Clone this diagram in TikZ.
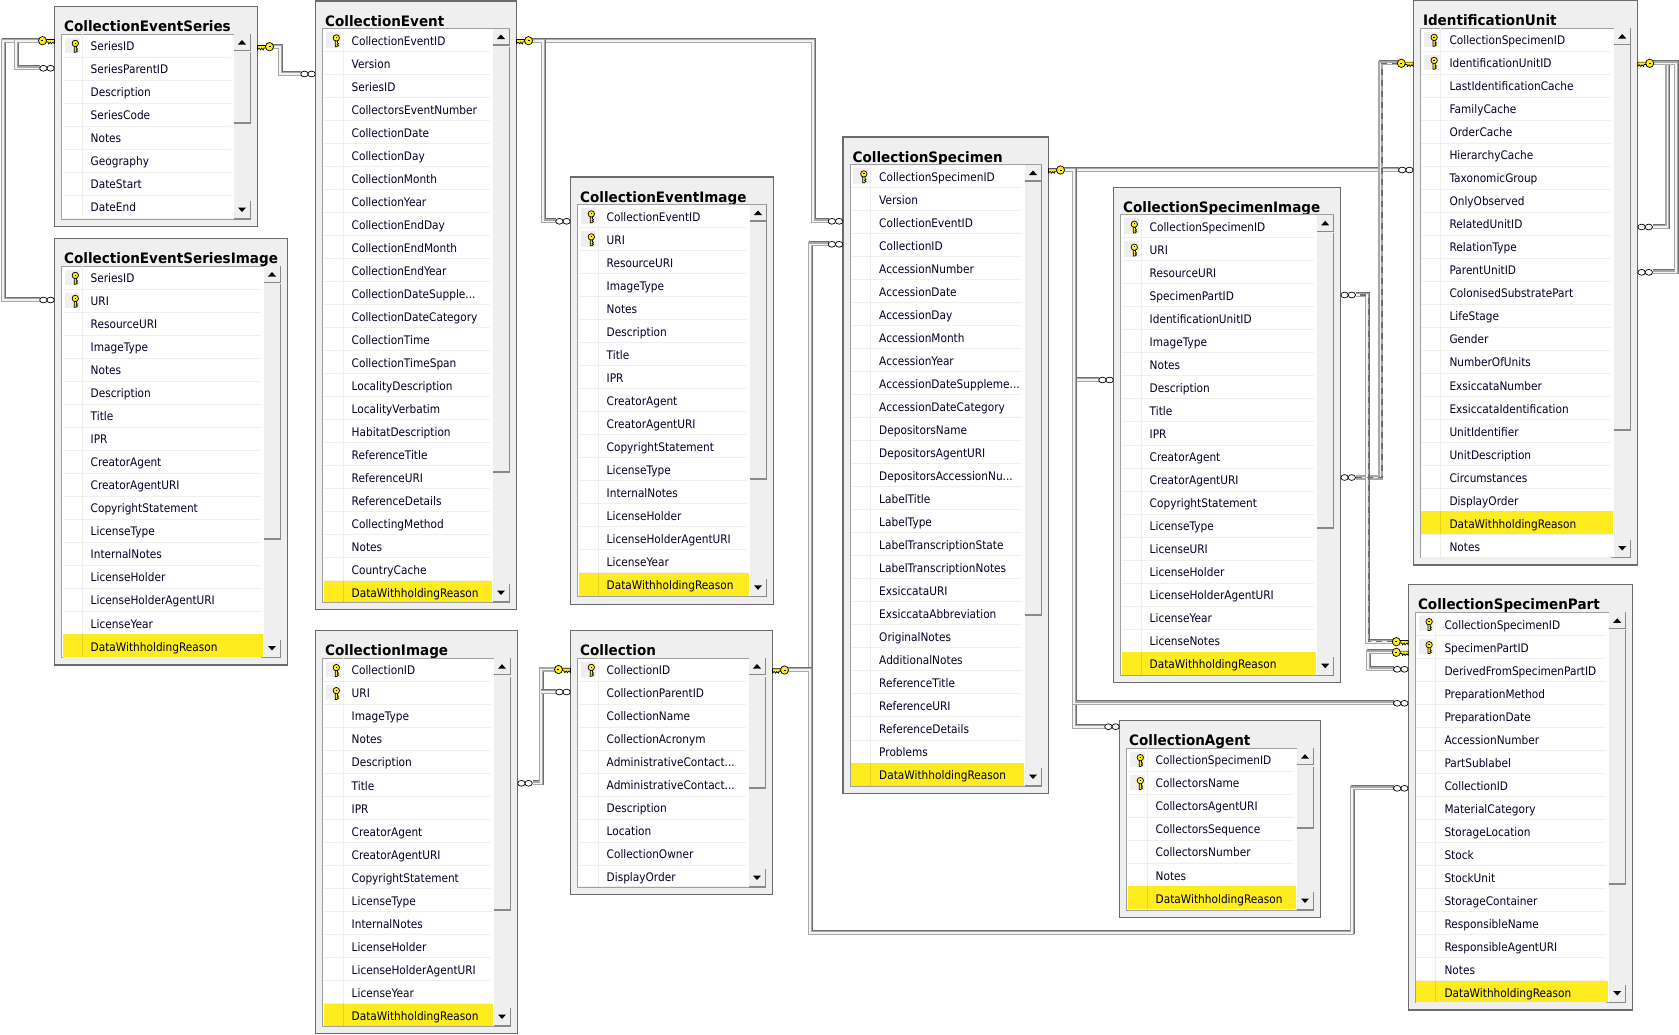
\documentclass[tikz,border=0pt]{standalone}
\usepackage{fontspec}
\setmainfont[FakeStretch=0.895]{DejaVu Sans}
\newfontfamily\titlefont[FakeStretch=0.94]{DejaVu Sans Bold}
\definecolor{boxedge}{HTML}{6B6B6B}
\definecolor{boxfill}{HTML}{EFEFEF}
\definecolor{framegray}{HTML}{A0A0A0}
\definecolor{hiyellow}{HTML}{FFEC1F}
\definecolor{relgray}{HTML}{A8A8A8}
\definecolor{reldark}{HTML}{6E6E6E}

\newcommand{\tdots}{.{}.{}.}
\newcommand{\rowkey}[2]{%
	\begin{scope}[shift={(#1,#2)}]
		\filldraw[keyfill] (-1.1,-1) -- (-1.1,6.2) -- (0.6,6.2) -- (2.2,5) -- (0.9,4) -- (2.2,3) -- (1.1,2) -- (1.1,-1) -- cycle;
		\filldraw[keyfill] (0,-2.6) circle [x radius=3.2,y radius=3.2];
		\fill (-0.8,-3.4) rectangle (0.8,-2.6);
	\end{scope}}
\newcommand{\keyend}[2]{%
	\begin{scope}[shift={(#1)},xscale=#2]
		\filldraw[keyfill] (0,-1.2) -- (-9,-1.2) -- (-9,1.2) -- (-6.5,1.2) -- (-5.8,3.2) -- (-4.2,1.5) -- (-3.2,3.2) -- (-1.6,1.5) -- (0,3) -- cycle;
		\filldraw[keyfill] (-12,0) circle [x radius=4,y radius=4.2];
		\draw[line width=0.9pt] (-13.5,0) -- (-11.5,0);
	\end{scope}}
\newcommand{\infend}[2]{%
	\begin{scope}[shift={(#1)},xscale=#2]
		\filldraw[infring] (-3.9,0) circle [x radius=3.7,y radius=2.9];
		\filldraw[infring] (-11.1,0) circle [x radius=3.7,y radius=2.9];
	\end{scope}}
\newcommand{\sbpiece}[4]{%
	\fill[boxfill] (#1,#2) rectangle (#3,#4);
	\draw[sbedge] (#1,#4) -- (#3,#4) -- (#3,#2);}
\newcommand{\scrollthumb}[3]{\sbpiece{#1-24}{#2}{#1-7}{#3}}
\newcommand{\dbtable}[9]{%
	\pgfmathsetmacro{\tabw}{#4-#2}
	\pgfmathsetmacro{\tabh}{#5-#3}
	\node[tablebox,minimum width=\tabw pt,minimum height=\tabh pt] (#1) at (#2,#3) {};
	\node[tabletitle] (#1-title) at (#2+9.5,#3+25) {#6};
	\filldraw[gridframe] (#2+7,#3+27.5) rectangle (#4-7,#5-7.5);
	\foreach \rowname [count=\i] in {#9} {
		\pgfmathsetmacro{\rowtop}{#3+27.5+(\i-1)*23.02}
		\pgfmathsetmacro{\rowbot}{min(\rowtop+23.02,#5-8)}
		\draw[rowline] (#2+8,\rowbot) -- (#4-27,\rowbot);
		\draw[rowline] (#2+27.5,\rowtop) -- (#2+27.5,\rowbot);
		\ifnum\i=#8
			\fill[hiyellow] (#2+8,\rowtop) rectangle (#4-25,\rowbot);
			\draw[hiyellow!90!black,line width=0.8pt] (#2+27.5,\rowtop) -- (#2+27.5,\rowbot);
		\fi
		\ifnum\i>#7 \else
			\fill[boxfill] (#2+10.2,\rowtop+3.5) rectangle (#2+25.5,\rowtop+19);
			\rowkey{#2+20.8}{\rowtop+12}
		\fi
		\node[rowtext] (#1-\i) at (#2+36,\rowtop+13.7) {\rowname};
	}
	\fill[boxfill] (#4-24,#3+27.5) rectangle (#4-7,#5-7.5);
	\sbpiece{#4-24}{#3+27.5}{#4-7}{#3+44}
	\sbpiece{#4-24}{#5-25.5}{#4-7}{#5-7.5}
	\fill (#4-19.5,#3+38) -- (#4-15.5,#3+33.5) -- (#4-11.5,#3+38) -- cycle;
	\fill (#4-19.5,#5-19) -- (#4-15.5,#5-14.5) -- (#4-11.5,#5-19) -- cycle;}

\begin{document}
\begin{tikzpicture}[x=1pt,y=-1pt,line cap=butt]
	\tikzstyle{tablebox}=[draw=boxedge,line width=1.1pt,fill=boxfill,rectangle,inner sep=0pt,outer sep=0pt,anchor=north west];
	\tikzstyle{tabletitle}=[anchor=base west,inner sep=0pt,font=\titlefont\fontsize{14.4}{16}\selectfont];
	\tikzstyle{gridframe}=[draw=framegray,line width=1pt,fill=white];
	\tikzstyle{rowline}=[draw=boxfill,line width=1pt];
	\tikzstyle{rowtext}=[anchor=west,inner sep=0pt,text height=8.6pt,text depth=2.6pt,text=black!85!blue,font=\fontsize{11.8}{14}\selectfont];
	\tikzstyle{keyfill}=[fill=hiyellow,draw=black,line width=0.7pt];
	\tikzstyle{infring}=[fill=white,draw=black,line width=0.7pt];
	\tikzstyle{sbedge}=[draw=boxedge!80,line width=1.2pt];
	\tikzstyle{rel}=[preaction={draw=reldark,line width=4.4pt,shorten <=15pt,shorten >=15pt,transform canvas={shift={(0.7pt,0.7pt)}}},draw=relgray,double=white!95!black,double distance=1.6pt,line width=1.3pt,shorten <=15pt,shorten >=15pt];
	\tikzstyle{reldash}=[draw=reldark,line width=1.3pt,dash pattern=on 6pt off 5pt,xshift=1.5pt,shorten <=15pt,shorten >=15pt];

	\useasboundingbox (0,0) rectangle (1679,1034);

	\dbtable{ces}{54.5}{6.5}{257.5}{226.5}{CollectionEventSeries}{1}{0}{SeriesID,SeriesParentID,Description,SeriesCode,Notes,Geography,DateStart,DateEnd}
	\scrollthumb{257.5}{52}{123}
	\dbtable{cesi}{54.5}{238.5}{287.5}{665}{CollectionEventSeriesImage}{2}{17}{SeriesID,URI,ResourceURI,ImageType,Notes,Description,Title,IPR,CreatorAgent,CreatorAgentURI,CopyrightStatement,LicenseType,InternalNotes,LicenseHolder,LicenseHolderAgentURI,LicenseYear,DataWithholdingReason}
	\scrollthumb{287.5}{284}{539}
	\dbtable{ce}{315.5}{1}{516.5}{609.5}{CollectionEvent}{1}{25}{CollectionEventID,Version,SeriesID,CollectorsEventNumber,CollectionDate,CollectionDay,CollectionMonth,CollectionYear,CollectionEndDay,CollectionEndMonth,CollectionEndYear,CollectionDateSupple\tdots,CollectionDateCategory,CollectionTime,CollectionTimeSpan,LocalityDescription,LocalityVerbatim,HabitatDescription,ReferenceTitle,ReferenceURI,ReferenceDetails,CollectingMethod,Notes,CountryCache,DataWithholdingReason}
	\scrollthumb{516.5}{47}{472}
	\dbtable{cei}{570.5}{177}{773.5}{604.3}{CollectionEventImage}{2}{17}{CollectionEventID,URI,ResourceURI,ImageType,Notes,Description,Title,IPR,CreatorAgent,CreatorAgentURI,CopyrightStatement,LicenseType,InternalNotes,LicenseHolder,LicenseHolderAgentURI,LicenseYear,DataWithholdingReason}
	\scrollthumb{773.5}{222}{479}
	\dbtable{ci}{315.5}{630.7}{517.5}{1033.5}{CollectionImage}{2}{16}{CollectionID,URI,ImageType,Notes,Description,Title,IPR,CreatorAgent,CreatorAgentURI,CopyrightStatement,LicenseType,InternalNotes,LicenseHolder,LicenseHolderAgentURI,LicenseYear,DataWithholdingReason}
	\scrollthumb{517.5}{677}{910}
	\dbtable{coll}{570.5}{630.5}{772.5}{894.5}{Collection}{1}{0}{CollectionID,CollectionParentID,CollectionName,CollectionAcronym,AdministrativeContact\tdots,AdministrativeContact\tdots,Description,Location,CollectionOwner,DisplayOrder}
	\scrollthumb{772.5}{677}{788}
	\dbtable{cs}{843}{137}{1048.5}{793.5}{CollectionSpecimen}{1}{27}{CollectionSpecimenID,Version,CollectionEventID,CollectionID,AccessionNumber,AccessionDate,AccessionDay,AccessionMonth,AccessionYear,AccessionDateSuppleme\tdots,AccessionDateCategory,DepositorsName,DepositorsAgentURI,DepositorsAccessionNu\tdots,LabelTitle,LabelType,LabelTranscriptionState,LabelTranscriptionNotes,ExsiccataURI,ExsiccataAbbreviation,OriginalNotes,AdditionalNotes,ReferenceTitle,ReferenceURI,ReferenceDetails,Problems,DataWithholdingReason}
	\scrollthumb{1048.5}{182}{615}
	\dbtable{csi}{1113.5}{187.3}{1340.7}{682.7}{CollectionSpecimenImage}{2}{20}{CollectionSpecimenID,URI,ResourceURI,SpecimenPartID,IdentificationUnitID,ImageType,Notes,Description,Title,IPR,CreatorAgent,CreatorAgentURI,CopyrightStatement,LicenseType,LicenseURI,LicenseHolder,LicenseHolderAgentURI,LicenseYear,LicenseNotes,DataWithholdingReason}
	\scrollthumb{1340.7}{233}{528}
	\dbtable{ca}{1119.5}{720.7}{1320.5}{917.5}{CollectionAgent}{2}{7}{CollectionSpecimenID,CollectorsName,CollectorsAgentURI,CollectorsSequence,CollectorsNumber,Notes,DataWithholdingReason}
	\scrollthumb{1320.5}{767}{828}
	\dbtable{iu}{1413.3}{0.5}{1637.7}{565}{IdentificationUnit}{2}{22}{CollectionSpecimenID,IdentificationUnitID,LastIdentificationCache,FamilyCache,OrderCache,HierarchyCache,TaxonomicGroup,OnlyObserved,RelatedUnitID,RelationType,ParentUnitID,ColonisedSubstratePart,LifeStage,Gender,NumberOfUnits,ExsiccataNumber,ExsiccataIdentification,UnitIdentifier,UnitDescription,Circumstances,DisplayOrder,DataWithholdingReason,Notes}
	\scrollthumb{1637.7}{45}{430}
	\dbtable{csp}{1408.3}{584.8}{1632.7}{1010}{CollectionSpecimenPart}{2}{17}{CollectionSpecimenID,SpecimenPartID,DerivedFromSpecimenPartID,PreparationMethod,PreparationDate,AccessionNumber,PartSublabel,CollectionID,MaterialCategory,StorageLocation,Stock,StockUnit,StorageContainer,ResponsibleName,ResponsibleAgentURI,Notes,DataWithholdingReason}
	\scrollthumb{1632.7}{630}{884}

	\coordinate (cesKeyL) at (54.5,40.7);
	\coordinate (cesInfL) at (54.5,68.3);
	\coordinate (cesKeyR) at (257.5,46.7);
	\coordinate (cesiInf) at (54.5,300);
	\coordinate (ceInf) at (315.5,74);
	\coordinate (ceKey) at (516.5,40.7);
	\coordinate (ceiInf) at (570.5,221.3);
	\coordinate (csInfE) at (843,221.3);
	\coordinate (csInfC) at (843,244.3);
	\coordinate (csKey) at (1048.5,170);
	\coordinate (collKeyL) at (570.5,669.5);
	\coordinate (collInf) at (570.5,692);
	\coordinate (collStub) at (525.7,692);
	\coordinate (ciInf) at (517.5,783.3);
	\coordinate (collKeyR) at (772.5,670);
	\coordinate (iuInfS) at (1413.3,170);
	\coordinate (csiInfS) at (1113.5,380);
	\coordinate (caInf) at (1119.5,726.7);
	\coordinate (cspInfS) at (1408.3,703.3);
	\coordinate (cspInfC) at (1408.3,788.3);
	\coordinate (cspKeyA) at (1408.3,641.7);
	\coordinate (cspKeyB) at (1408.3,652.3);
	\coordinate (cspInfD) at (1408.3,669.3);
	\coordinate (iuKeyL) at (1413.3,63.3);
	\coordinate (iuKeyR) at (1637.7,63.3);
	\coordinate (iuInfR) at (1637.7,227);
	\coordinate (iuInfP) at (1637.7,272.3);
	\coordinate (csiInfP) at (1340.7,295);
	\coordinate (csiInfU) at (1340.7,477.5);

	\draw[rel] (cesKeyL) -| (3,150) |- (cesiInf);
	\draw[rel] (cesKeyL) -| (16,50) |- (cesInfL);
	\draw[rel] (cesKeyR) -| (280,60) |- (ceInf);
	\draw[rel] (ceKey) -| (813,100) |- (csInfE);
	\draw[rel] (ceKey) -| (542.7,100) |- (ceiInf);
	\draw[rel] (collKeyL) -| (540.7,700) |- (ciInf);
	\draw[rel] (collInf) -- (collStub);
	\draw[rel] (collKeyR) -| (810,500) |- (csInfC);
	\draw[rel] (collKeyR) -| (810,800) |- (1352,932.7) |- (cspInfC);
	\draw[rel] (csKey) -- (iuInfS);
	\draw[rel] (csKey) -| (1074,300) |- (csiInfS);
	\draw[rel] (csKey) -| (1074,500) |- (caInf);
	\draw[rel] (csKey) -| (1074,500) |- (cspInfS);
	\draw[rel] (iuKeyL) -| (1380.5,300) |- (csiInfU);
	\draw[rel] (cspKeyA) -| (1366.7,500) |- (csiInfP);
	\draw[rel] (cspKeyB) -| (1368,660) |- (cspInfD);
	\draw[rel] (iuKeyR) -| (1667.3,150) |- (iuInfR);
	\draw[rel] (iuKeyR) -| (1676,150) |- (iuInfP);
	\draw[reldash] (iuKeyL) -| (1380.5,300) |- (csiInfU);
	\draw[reldash] (cspKeyA) -| (1366.7,500) |- (csiInfP);

	\keyend{cesKeyL}{1}
	\keyend{cesKeyR}{-1}
	\keyend{ceKey}{-1}
	\keyend{csKey}{-1}
	\keyend{collKeyL}{1}
	\keyend{collKeyR}{-1}
	\keyend{iuKeyL}{1}
	\keyend{iuKeyR}{-1}
	\keyend{cspKeyA}{1}
	\keyend{cspKeyB}{1}
	\infend{cesInfL}{1}
	\infend{cesiInf}{1}
	\infend{ceInf}{1}
	\infend{ceiInf}{1}
	\infend{csInfE}{1}
	\infend{csInfC}{1}
	\infend{collInf}{1}
	\infend{ciInf}{-1}
	\infend{iuInfS}{1}
	\infend{csiInfS}{1}
	\infend{caInf}{1}
	\infend{cspInfS}{1}
	\infend{cspInfC}{1}
	\infend{cspInfD}{1}
	\infend{iuInfR}{-1}
	\infend{iuInfP}{-1}
	\infend{csiInfP}{-1}
	\infend{csiInfU}{-1}
\end{tikzpicture}
\end{document}
